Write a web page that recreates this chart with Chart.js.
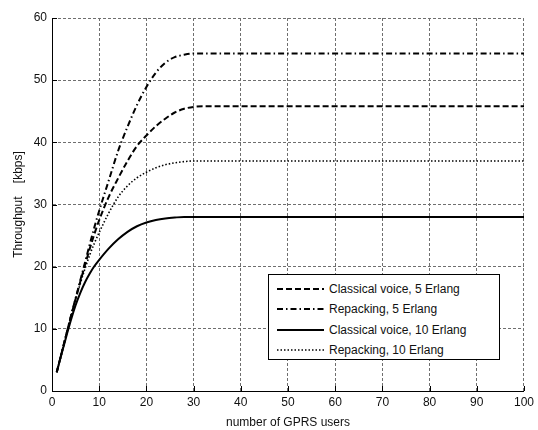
<!DOCTYPE html>
<html>
<head>
<meta charset="utf-8">
<script src="https://cdn.jsdelivr.net/npm/chart.js@4"></script>
<style>
  body { margin: 0; background: #fff; }
  #wrap { position: relative; width: 538px; height: 430px; }
  #legend {
    position: absolute; left: 268px; top: 274px; width: 232px; height: 86px;
    background: #fff; border: 1px solid #000; box-sizing: border-box;
    font: 12px "Liberation Sans", Arial, sans-serif; color: #111;
    padding-top: 4px;
  }
  .row { height: 20.3px; display: flex; align-items: center; }
  .row svg { margin-left: 8px; margin-right: 5px; }
</style>
</head>
<body>
<div id="wrap">
  <canvas id="myChart" width="538" height="430"></canvas>
  <div id="legend"></div>
</div>
<script>
const xValues = [1, 2, 3, 4, 5, 6, 7, 8, 9, 10, 12, 14, 16, 18, 20, 22, 24, 26, 28, 30, 32, 35, 40, 50, 60, 70, 80, 90, 100];

const classical5 = [3, 6, 9, 12, 14.8, 17.6, 20.3, 22.9, 25.3, 27.5, 31.2, 34.2, 37, 39.4, 41.1, 42.6, 43.8, 44.8, 45.4, 45.7, 45.8, 45.8, 45.8, 45.8, 45.8, 45.8, 45.8, 45.8, 45.8];
const repacking5 = [3, 6, 9, 12, 14.9, 17.8, 20.7, 23.6, 26.4, 29, 33.8, 38.6, 42.5, 46, 48.9, 51.2, 52.8, 53.7, 54.1, 54.3, 54.3, 54.3, 54.3, 54.3, 54.3, 54.3, 54.3, 54.3, 54.3];
const classical10 = [3, 5.9, 8.7, 11.4, 13.8, 15.8, 17.5, 18.9, 20.1, 21.1, 22.9, 24.4, 25.6, 26.5, 27.1, 27.5, 27.75, 27.9, 28, 28, 28, 28, 28, 28, 28, 28, 28, 28, 28];
const repacking10 = [3, 6, 9, 12, 14.7, 17.3, 19.7, 21.9, 23.8, 25.5, 28.6, 31.2, 33, 34.3, 35.2, 35.9, 36.4, 36.7, 36.9, 37, 37, 37, 37, 37, 37, 37, 37, 37, 37];

const seriesLabels = ["Classical voice, 5 Erlang", "Repacking, 5 Erlang", "Classical voice, 10 Erlang", "Repacking, 10 Erlang"];
const seriesValues = [classical5, repacking5, classical10, repacking10];
const dashes = [[6, 3], [6, 3, 1.5, 3], [], [1.5, 2]];
const widths = [2, 2, 2, 1.6];

const toPoints = (ys) => xValues.map((x, i) => ({ x: x, y: ys[i] }));

// MATLAB-style tick marks pointing into the plot
const innerTicks = {
  id: "innerTicks",
  afterDraw(chart) {
    const ctx = chart.ctx;
    const area = chart.chartArea;
    const xs = chart.scales.x;
    const ys = chart.scales.y;
    ctx.save();
    ctx.strokeStyle = "#000";
    ctx.lineWidth = 1;
    ctx.beginPath();
    xs.ticks.forEach((t) => {
      const px = Math.round(xs.getPixelForValue(t.value)) + 0.5;
      ctx.moveTo(px, area.bottom);
      ctx.lineTo(px, area.bottom - 5);
    });
    ys.ticks.forEach((t) => {
      const py = Math.round(ys.getPixelForValue(t.value)) + 0.5;
      ctx.moveTo(area.left, py);
      ctx.lineTo(area.left + 5, py);
    });
    ctx.stroke();
    ctx.restore();
  },
};

const font = { family: "'Liberation Sans', Arial, sans-serif", size: 12 };

const config = {
  type: "line",
  data: {
    datasets: seriesLabels.map((label, i) => ({
      label: label,
      data: toPoints(seriesValues[i]),
      borderColor: "#000",
      borderWidth: widths[i],
      borderDash: dashes[i],
      pointRadius: 0,
      fill: false,
      cubicInterpolationMode: "monotone",
    })),
  },
  options: {
    responsive: false,
    animation: false,
    layout: { padding: { left: 11, top: 18, right: 13, bottom: 0 } },
    plugins: {
      legend: { display: false },
      tooltip: { enabled: false },
    },
    scales: {
      x: {
        type: "linear",
        min: 0,
        max: 100,
        ticks: { stepSize: 10, color: "#111", font: font, padding: 4 },
        grid: { color: "#6f6f6f", lineWidth: 1, tickLength: 0 },
        border: { display: true, color: "#000", width: 1, dash: [3, 2] },
        title: { display: true, text: "number of GPRS users", color: "#111", font: font, padding: { top: 0, bottom: 0 } },
        afterFit: (s) => { s.height = 39; },
      },
      y: {
        min: 0,
        max: 60,
        ticks: { stepSize: 10, color: "#111", font: font, padding: 5 },
        grid: { color: "#6f6f6f", lineWidth: 1, tickLength: 0 },
        border: { display: true, color: "#000", width: 1, dash: [3, 2] },
        title: { display: true, text: "Throughput    [kbps]", color: "#111", font: font, padding: { top: 0, bottom: 0 } },
        afterFit: (s) => { s.width = 41; },
      },
    },
  },
  plugins: [innerTicks],
};

const chart = new Chart(document.getElementById("myChart"), config);

const legend = document.getElementById("legend");
seriesLabels.forEach((label, i) => {
  const row = document.createElement("div");
  row.className = "row";
  const dash = dashes[i].length ? dashes[i].join(" ") : "none";
  row.innerHTML =
    '<svg width="47" height="6"><line x1="0" y1="3" x2="47" y2="3" stroke="#000" stroke-width="' +
    widths[i] + '" stroke-dasharray="' + dash + '"/></svg><span>' + label + "</span>";
  legend.appendChild(row);
});
</script>
</body>
</html>
